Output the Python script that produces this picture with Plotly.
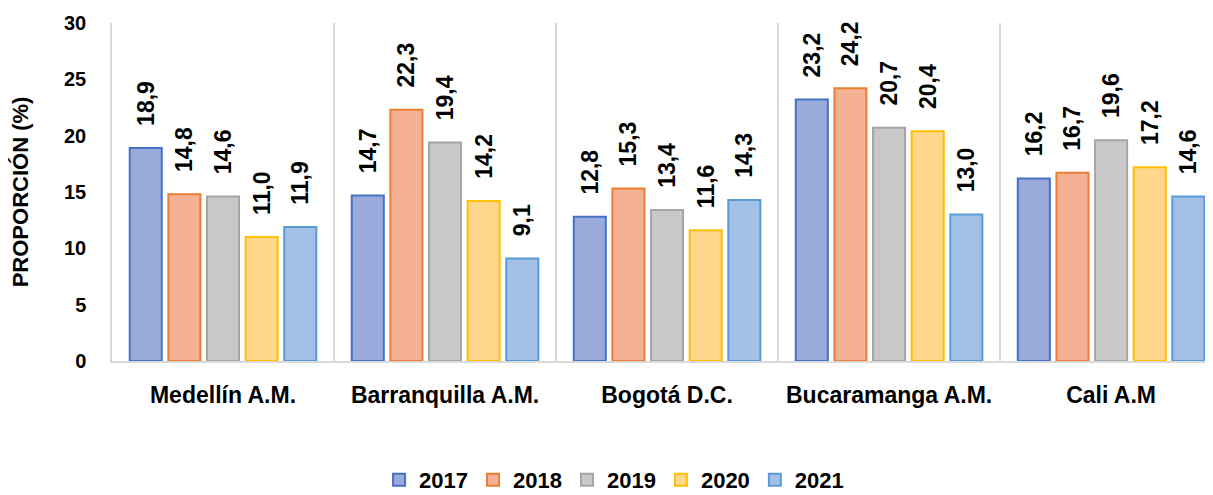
import plotly.graph_objects as go

categorias = ['Medellín A.M.', 'Barranquilla A.M.', 'Bogotá D.C.', 'Bucaramanga A.M.', 'Cali A.M']
anios = ['2017', '2018', '2019', '2020', '2021']

v2017 = [18.9, 14.7, 12.8, 23.2, 16.2]
v2018 = [14.8, 22.3, 15.3, 24.2, 16.7]
v2019 = [14.6, 19.4, 13.4, 20.7, 19.6]
v2020 = [11.0, 14.2, 11.6, 20.4, 17.2]
v2021 = [11.9, 9.1, 14.3, 13.0, 14.6]

relleno = ['#9AAADB', '#F5B193', '#C8C8C8', '#FED78C', '#A3C1E6']
borde = ['#4472C4', '#ED7D31', '#A5A5A5', '#FFC000', '#5B9BD5']

fuente = 'Arial, Liberation Sans, sans-serif'

fig = go.Figure()
for anio, vals, c, b in zip(anios, [v2017, v2018, v2019, v2020, v2021], relleno, borde):
    fig.add_trace(go.Bar(
        x=categorias, y=vals, name=anio,
        marker=dict(color=c, line=dict(color=b, width=2)),
        # espacios duros para separar la etiqueta de la barra
        texttemplate='\u00a0\u00a0\u00a0%{y:.1f}', textposition='outside', textangle=-90,
        constraintext='none', cliponaxis=False,
        textfont=dict(family=fuente, size=23, color='black', weight='bold'),
    ))

# la página tiene 8px de margen en el body, por eso se descuenta aquí
fig.update_layout(
    template=None,
    width=1205, height=487,
    margin=dict(l=104, r=0, t=15, b=134, autoexpand=False),
    paper_bgcolor='white', plot_bgcolor='white',
    separators=',.',
    barmode='group', bargap=0.13, bargroupgap=0.17,
    font=dict(family=fuente, color='black'),
    showlegend=True,
    legend=dict(orientation='h', x=0.456, xanchor='center', y=-0.352, yanchor='middle',
                font=dict(size=22, weight='bold'), itemwidth=30, traceorder='normal'),
    xaxis=dict(range=[-0.5, 4.459], tickson='boundaries', showgrid=True, gridcolor='#D9D9D9',
               gridwidth=1.5, showline=True, linecolor='#D9D9D9', linewidth=2, ticks='',
               ticklabelstandoff=12, automargin=False, tickfont=dict(size=23, weight='bold')),
    yaxis=dict(range=[0, 30], dtick=5, showgrid=False, showline=True, linecolor='#D9D9D9',
               linewidth=1.5, ticks='', ticklabelstandoff=20, zeroline=False, automargin=False,
               tickfont=dict(size=20, weight='bold'),
               title=dict(text='PROPORCIÓN (%)', font=dict(size=22, weight='bold'), standoff=30)),
)

fig.write_html('out.html')
